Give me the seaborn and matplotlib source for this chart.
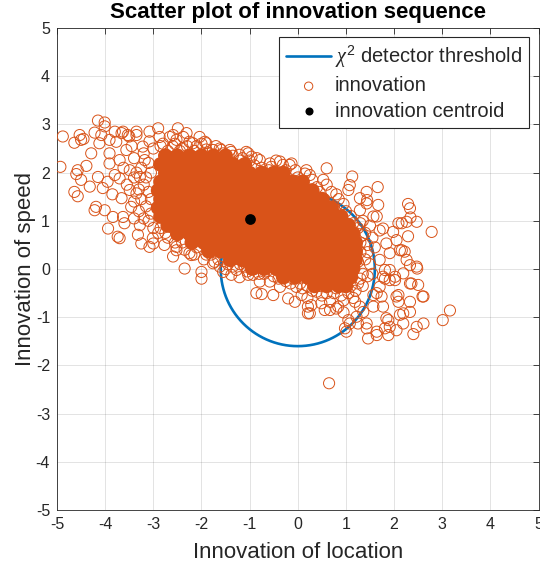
import numpy as np
import pandas as pd
import matplotlib
matplotlib.use("Agg")
import matplotlib.pyplot as plt
import seaborn as sns

# ---------------- data ----------------
# detector threshold (radius of the chi^2 circle) and innovation centroid
threshold_radius = 1.6
centroid_loc = [-1.0]
centroid_speed = [1.03]

# dense core of the innovation cloud: one list of locations per speed row
core_speed_rows = [2.35, 2.17, 1.99, 1.81, 1.63, 1.45, 1.27, 1.09, 0.91,
                   0.73, 0.55, 0.37, 0.19, 0.01, -0.17, -0.35]
core_loc_rows = [
    [-2.75, -2.5, -2.25, -2.0, -1.75, -1.5],
    [-2.85, -2.6, -2.35, -2.1, -1.85, -1.6, -1.35, -1.1],
    [-2.75, -2.5, -2.25, -2.0, -1.75, -1.5, -1.25, -1.0, -0.75, -0.5, -0.3],
    [-2.85, -2.6, -2.35, -2.1, -1.85, -1.6, -1.35, -1.1, -0.85, -0.6, -0.35, -0.1, 0.1],
    [-2.9, -2.65, -2.4, -2.15, -1.9, -1.65, -1.4, -1.15, -0.9, -0.65, -0.4, -0.15, 0.1, 0.3],
    [-2.85, -2.6, -2.35, -2.1, -1.85, -1.6, -1.35, -1.1, -0.85, -0.6, -0.35, -0.1, 0.15, 0.4, 0.5],
    [-2.9, -2.65, -2.4, -2.15, -1.9, -1.65, -1.4, -1.15, -0.9, -0.65, -0.4, -0.15, 0.1, 0.35, 0.6, 0.7],
    [-2.85, -2.6, -2.35, -2.1, -1.85, -1.6, -1.35, -1.1, -0.85, -0.6, -0.35, -0.1, 0.15, 0.4, 0.65, 0.9],
    [-2.7, -2.45, -2.2, -1.95, -1.7, -1.45, -1.2, -0.95, -0.7, -0.45, -0.2, 0.05, 0.3, 0.55, 0.8, 1.05],
    [-2.5, -2.25, -2.0, -1.75, -1.5, -1.25, -1.0, -0.75, -0.5, -0.25, 0.0, 0.25, 0.5, 0.75, 1.0, 1.15],
    [-2.2, -1.95, -1.7, -1.45, -1.2, -0.95, -0.7, -0.45, -0.2, 0.05, 0.3, 0.55, 0.8, 1.05, 1.2],
    [-1.85, -1.6, -1.35, -1.1, -0.85, -0.6, -0.35, -0.1, 0.15, 0.4, 0.65, 0.9, 1.15, 1.2],
    [-1.4, -1.15, -0.9, -0.65, -0.4, -0.15, 0.1, 0.35, 0.6, 0.85, 1.1, 1.2],
    [-0.95, -0.7, -0.45, -0.2, 0.05, 0.3, 0.55, 0.8, 1.05, 1.15],
    [-0.3, -0.05, 0.2, 0.45, 0.7, 0.95, 1.1],
    [0.35, 0.6, 0.85, 1.0],
]

# individually visible innovations (location, speed)
left_tail = [
    (-4.88, 2.75), (-4.93, 2.12), (-4.53, 2.78), (-4.64, 2.62), (-4.5, 2.68),
    (-4.15, 3.08), (-4.01, 3.04), (-4.01, 2.96), (-4.22, 2.83), (-4.29, 2.4),
    (-4.12, 2.61), (-4.57, 2.05), (-4.6, 1.97), (-4.39, 2.14), (-4.5, 1.85),
    (-4.32, 1.71), (-4.64, 1.6), (-4.57, 1.51), (-4.15, 1.91), (-4.05, 1.68),
    (-3.95, 1.81), (-4.19, 1.29), (-4.22, 1.22), (-4.01, 1.22), (-3.84, 1.08),
    (-3.94, 0.84), (-3.7, 0.64), (-3.91, 2.19), (-3.91, 2.4), (-3.77, 2.64),
    (-3.8, 2.85), (-3.66, 2.82), (-3.53, 2.78), (-3.35, 2.78), (-3.56, 2.47),
    (-3.7, 2.26), (-3.49, 2.05), (-3.7, 1.88), (-3.49, 1.64), (-3.66, 1.47),
    (-3.46, 1.29), (-3.63, 1.08), (-3.6, 0.95), (-3.35, 1.57), (-3.91, 2.68),
    (-4.08, 2.78), (-3.74, 0.67), (-4.45, 2.7), (-3.62, 2.1), (-3.8, 1.95),
    (-3.4, 1.9), (-3.55, 1.75), (-3.4, 2.3), (-3.45, 2.55), (-3.85, 1.55),
    (-3.3, 1.2), (-3.4, 1.05), (-3.2, 2.4), (-3.25, 2.1), (-3.05, 2.0),
    (-3.2, 1.75), (-3.05, 1.45), (-3.25, 1.45), (-3.05, 1.15), (-3.2, 1.05),
    (-3.0, 0.85), (-2.85, 0.85), (-3.35, 2.0), (-3.3, 1.65), (-3.4, 1.4),
]
upper_edge = [
    (-3.63, 2.85), (-3.35, 2.85), (-3.08, 2.85), (-2.9, 2.92), (-2.87, 2.74),
    (-2.59, 2.78), (-2.31, 2.82), (-2.04, 2.74), (-1.93, 2.64), (-2.18, 2.61),
    (-1.76, 2.47), (-1.59, 2.47), (-1.38, 2.43), (-1.21, 2.37), (-1.03, 2.4),
    (-2.49, 2.92), (-3.5, 2.75), (-1.9, 2.61), (-1.62, 2.5), (-1.41, 2.47),
    (-1.07, 2.43), (-0.79, 2.26), (-0.58, 2.19), (-0.37, 2.23), (-0.17, 2.16),
    (-2.52, 2.68), (-2.38, 2.74), (-2.25, 2.64), (-2.66, 2.74), (-0.96, 2.33),
    (-3.22, 2.54), (-3.18, 2.26), (-3.28, 1.91), (-3.08, 2.65), (-2.8, 2.6),
    (-2.6, 2.55), (-2.4, 2.5), (-2.1, 2.55), (-1.85, 2.4), (-1.5, 2.3),
    (-1.2, 2.25), (-0.9, 2.15), (-0.6, 2.05), (-0.31, 2.16), (-0.13, 2.19),
    (0.18, 2.05), (0.15, 1.98), (0.3, 1.85), (0.53, 1.85), (0.6, 2.09),
    (-0.4, 2.0), (0.0, 1.9), (0.4, 1.7), (0.7, 1.6), (0.3, 1.62),
    (0.55, 1.45), (0.85, 1.45), (0.75, 1.3), (-3.0, 2.5), (-2.85, 2.55),
    (-2.7, 2.45), (-2.55, 2.6), (-2.45, 2.45), (-2.3, 2.55), (-2.15, 2.45),
    (-2.0, 2.6), (-1.9, 2.48), (-1.7, 2.55), (-1.55, 2.4), (-1.35, 2.35),
    (-1.15, 2.3), (-1.0, 2.25), (-0.85, 2.3), (-0.75, 2.1), (-0.55, 2.12),
    (-0.45, 2.25), (-0.25, 2.05), (-0.05, 2.05), (0.1, 1.8), (0.25, 1.95),
    (0.45, 1.6), (0.6, 1.75), (0.8, 1.55), (0.95, 1.35), (1.0, 1.2),
    (1.1, 1.1),
]
right_tail = [
    (1.13, 1.92), (1.66, 1.7), (1.43, 1.6), (1.08, 1.74), (2.29, 1.35),
    (2.33, 1.26), (2.78, 0.77), (2.47, 0.98), (2.26, 0.98), (2.09, 0.95),
    (2.29, 0.68), (1.98, 0.77), (2.05, 0.6), (2.16, 0.39), (1.91, 0.33),
    (2.47, 0.05), (2.26, 0.19), (2.19, -0.09), (2.36, -0.3), (2.5, -0.33),
    (2.61, -0.57), (2.33, -0.68), (2.05, -0.57), (1.91, -0.23), (3.16, -0.86),
    (3.01, -1.06), (2.61, -1.13), (2.47, -1.2), (2.4, -1.35), (2.05, -1.27),
    (2.19, -0.92), (1.84, -1.02), (1.91, -1.2), (1.64, -1.3), (1.46, -1.44),
    (1.43, -1.13), (1.01, -1.3), (1.08, -1.13), (1.22, -0.99), (1.29, -0.78),
    (1.77, -0.78), (1.64, -0.5), (1.64, 1.09), (1.77, 0.84), (1.84, 0.53),
    (1.7, 0.19), (1.81, -0.02), (1.43, 1.36), (1.29, 1.22), (2.34, 1.07),
    (2.16, 0.95), (1.67, 1.33), (1.44, 1.43), (1.05, 1.64), (1.29, 1.47),
    (1.57, 1.09), (2.12, 0.39), (2.48, 0.01), (2.33, 0.08), (2.02, -0.23),
    (2.33, -0.3), (2.09, -0.54), (2.33, -0.89), (2.12, -0.95), (2.19, -1.13),
    (1.88, -1.06), (1.81, -1.23), (1.88, -1.37), (1.64, -1.37), (1.43, -1.23),
    (1.25, -1.13), (1.05, -1.06), (0.98, -1.23), (1.36, -0.89), (1.57, -0.78),
    (1.74, -0.57), (1.7, -0.37), (1.57, -0.54), (0.84, -0.78), (1.19, -0.68),
    (2.09, -0.68), (2.02, -0.16), (1.91, -0.02), (1.77, -0.16), (2.22, 0.36),
    (2.59, -0.57), (1.81, -0.2), (1.5, 0.9), (1.55, 0.65), (1.45, 0.35),
    (1.5, 0.1), (1.45, -0.15), (1.35, -0.35), (1.2, -0.45), (1.6, 0.45),
    (1.7, 0.8), (1.35, 1.0), (1.4, 0.75), (1.55, -0.1), (1.3, 0.55),
    (1.25, 0.15), (1.35, -0.1), (1.05, -0.5), (0.95, -0.9), (1.3, 0.35),
    (1.35, 0.7), (1.25, 0.85), (1.2, 0.4), (1.3, -0.2), (1.25, -0.3),
    (1.4, 0.2), (1.45, 0.5), (1.15, 0.95), (1.3, 0.95),
]
lower_edge = [
    (-3.28, 0.91), (-3.32, 0.71), (-3.25, 0.53), (-3.01, 0.64), (-3.08, 0.46),
    (-2.77, 0.5), (-2.52, 0.39), (-3.0, 0.53), (-2.35, 0.01), (-2.0, -0.06),
    (-2.0, -0.2), (-2.25, 0.33), (-2.52, 0.46), (-1.76, 0.12), (-2.21, 0.29),
    (-0.86, -0.5), (-0.75, -0.52), (-0.51, -0.54), (-1.38, -0.12), (-1.21, -0.17),
    (-1.03, -0.12), (-0.79, -0.26), (-0.58, -0.26), (-0.37, -0.37), (-0.2, -0.61),
    (-0.06, -0.68), (0.08, -0.54), (0.21, -0.78), (0.21, -0.92), (0.28, -0.75),
    (0.49, -0.71), (0.56, -0.85), (0.67, -0.68), (0.8, -0.82), (-1.55, -0.06),
    (-1.73, 0.15), (-0.03, -0.37), (0.39, -0.47), (0.67, -0.85), (0.25, -0.92),
    (-2.59, 0.26), (-1.62, 0.05), (-1.27, -0.02), (-0.93, -0.12), (-2.9, 0.75),
    (-2.7, 0.65), (-2.4, 0.55), (-2.1, 0.45), (-1.9, 0.3), (-1.45, 0.1),
    (-1.1, 0.05), (-0.7, -0.1), (-0.4, -0.2), (-0.15, -0.3), (0.1, -0.4),
    (0.2, -0.6), (0.5, -0.55), (0.75, -0.5), (0.95, -0.65), (-3.1, 1.0),
    (-3.15, 1.3), (-3.1, 1.6), (-3.15, 1.9), (-3.1, 2.2), (0.65, -2.37),
    (-2.75, 0.75), (-2.55, 0.55), (-2.35, 0.4), (-2.15, 0.3), (-1.95, 0.2),
    (-1.8, 0.3), (-1.65, 0.2), (-1.5, 0.0), (-1.35, 0.05), (-1.2, 0.1),
    (-1.05, -0.05), (-0.9, 0.0), (-0.8, -0.1), (-0.65, -0.05), (-0.5, -0.15),
    (-0.35, -0.1), (-0.25, -0.25), (-0.1, -0.2), (0.05, -0.3), (0.2, -0.35),
    (0.3, -0.45), (0.45, -0.35), (0.6, -0.5), (0.8, -0.4), (0.9, -0.55),
    (1.1, -0.35), (1.15, -0.6),
]

# ---------------- tables built from the arrays ----------------
core = pd.DataFrame({
    "loc": [x for row in core_loc_rows for x in row],
    "speed": [y for y, row in zip(core_speed_rows, core_loc_rows) for _ in row],
})
pts = left_tail + upper_edge + right_tail + lower_edge
innov = pd.DataFrame(pts, columns=["loc", "speed"])
cent = pd.DataFrame({"loc": centroid_loc, "speed": centroid_speed})

# ---------------- style ----------------
sns.set_theme(style="white")
plt.rcParams['font.family'] = ['Liberation Sans', 'DejaVu Sans']
plt.rcParams['axes.unicode_minus'] = False
plt.rcParams['mathtext.fontset'] = 'custom'
plt.rcParams['mathtext.rm'] = 'Liberation Sans'
plt.rcParams['mathtext.it'] = 'Liberation Serif:italic'

ORANGE = '#D95319'
BLUE = '#0072BD'
DARK = '#262626'

fig = plt.figure(figsize=(5.4, 5.71), dpi=100)
ax = fig.add_axes([0.1056, 0.1068, 0.8917, 0.8441])

theta = np.linspace(0, 2 * np.pi, 361)
ax.plot(threshold_radius * np.cos(theta), threshold_radius * np.sin(theta),
        color=BLUE, lw=1.9, zorder=2, label=r'$\chi^2$ detector threshold')

sns.scatterplot(data=core, x="loc", y="speed", ax=ax, s=112, color=ORANGE,
                edgecolor='none', linewidth=0, zorder=3, legend=False)
sns.scatterplot(data=innov, x="loc", y="speed", ax=ax, s=64, marker='o',
                facecolor='none', edgecolor=ORANGE, linewidth=0.7, zorder=4,
                label='innovation')
sns.scatterplot(data=cent, x="loc", y="speed", ax=ax, s=60, color='black',
                edgecolor='black', linewidth=0, zorder=5,
                label='innovation centroid')

ax.set_xlim(-5, 5)
ax.set_ylim(-5, 5)
ax.set_xticks(range(-5, 6))
ax.set_yticks(range(-5, 6))
ax.grid(True, color=DARK, alpha=0.15, lw=0.6)
ax.set_axisbelow(True)
for sp in ax.spines.values():
    sp.set_color(DARK)
    sp.set_linewidth(0.6)
ax.tick_params(direction='in', top=True, right=True, length=4, width=0.6,
               labelsize=11.5, colors=DARK, pad=5)

ax.set_xlabel('Innovation of location', fontsize=16, color=DARK, labelpad=7)
ax.set_ylabel('Innovation of speed', fontsize=16, color=DARK, labelpad=0)
ax.set_title('Scatter plot of innovation sequence', fontsize=16,
             fontweight='bold', color='black', pad=7.5)

handles, labels = ax.get_legend_handles_labels()
order = [labels.index(l) for l in [r'$\chi^2$ detector threshold',
                                   'innovation', 'innovation centroid']]
leg = ax.legend([handles[i] for i in order], [labels[i] for i in order],
                loc='upper right', bbox_to_anchor=(0.98, 0.981),
                frameon=True, fancybox=False, edgecolor=DARK, framealpha=1,
                fontsize=14.5, handlelength=2.2, handletextpad=0.2,
                borderpad=0.35, labelspacing=0.3, borderaxespad=0,
                markerscale=0.75)
leg.get_frame().set_linewidth(0.8)

fig.savefig('out.png', dpi=100)
